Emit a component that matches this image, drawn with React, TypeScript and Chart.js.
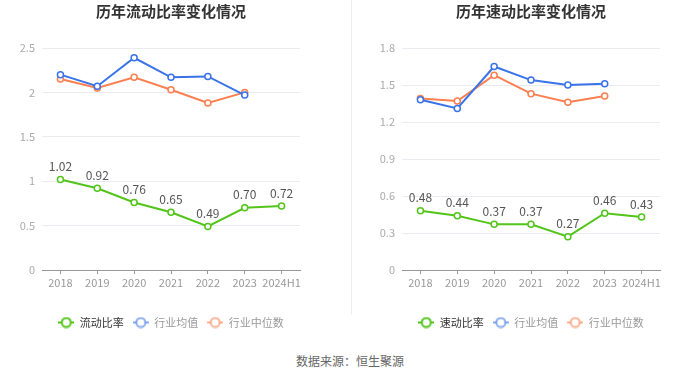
import React, { useEffect, useRef } from "react";
import { Chart, registerables } from "chart.js";

Chart.register(...registerables);

const categories = ["2018", "2019", "2020", "2021", "2022", "2023", "2024H1"];

const currentRatio = [1.02, 0.92, 0.76, 0.65, 0.49, 0.7, 0.72];
const currentMean = [2.2, 2.07, 2.39, 2.17, 2.18, 1.97, null];
const currentMedian = [2.15, 2.05, 2.17, 2.03, 1.88, 2.0, null];

const quickRatio = [0.48, 0.44, 0.37, 0.37, 0.27, 0.46, 0.43];
const quickMean = [1.38, 1.31, 1.65, 1.54, 1.5, 1.51, null];
const quickMedian = [1.39, 1.37, 1.58, 1.43, 1.36, 1.41, null];

const GREEN = "#52c41a";
const BLUE = "#3a73e8";
const ORANGE = "#fb7f4f";
const FONT = "'Noto Sans CJK SC', 'Noto Sans', sans-serif";

function legendIcon(color: string, alpha: number) {
  const c = document.createElement("canvas");
  c.width = 16;
  c.height = 12;
  const ctx = c.getContext("2d")!;
  ctx.globalAlpha = alpha;
  ctx.strokeStyle = color;
  ctx.lineWidth = 2;
  ctx.beginPath();
  ctx.moveTo(0, 6);
  ctx.lineTo(16, 6);
  ctx.stroke();
  ctx.globalAlpha = 1;
  ctx.fillStyle = "#fff";
  ctx.beginPath();
  ctx.arc(8, 6, 4.5, 0, Math.PI * 2);
  ctx.fill();
  ctx.globalAlpha = alpha;
  ctx.beginPath();
  ctx.arc(8, 6, 4.5, 0, Math.PI * 2);
  ctx.stroke();
  return c;
}

const valueLabels = {
  id: "valueLabels",
  afterDatasetsDraw(chart: any) {
    const meta = chart.getDatasetMeta(0);
    const data = chart.data.datasets[0].data;
    const ctx = chart.ctx;
    ctx.save();
    ctx.font = `12px ${FONT}`;
    ctx.fillStyle = "#555";
    ctx.textAlign = "center";
    ctx.textBaseline = "middle";
    meta.data.forEach((pt: any, i: number) => {
      const v = data[i];
      if (v == null) return;
      ctx.fillText(Number(v).toFixed(2), pt.x, pt.y - 13);
    });
    ctx.restore();
  },
};

function makeConfig(
  title: string,
  mainLabel: string,
  main: (number | null)[],
  mean: (number | null)[],
  median: (number | null)[],
  max: number,
  step: number,
  yWidth: number,
  padRight: number
): any {
  const ds = (label: string, data: any, color: string) => ({
    label,
    data,
    borderColor: color,
    backgroundColor: "#fff",
    borderWidth: 2,
    pointRadius: 3,
    pointBorderWidth: 1.5,
    pointBackgroundColor: "#fff",
    pointBorderColor: color,
    tension: 0,
    spanGaps: false,
  });
  const icons = [legendIcon(GREEN, 1), legendIcon(BLUE, 0.6), legendIcon(ORANGE, 0.6)];
  return {
    type: "line",
    data: {
      labels: categories,
      datasets: [
        ds(mainLabel, main, GREEN),
        ds("行业均值", mean, BLUE),
        ds("行业中位数", median, ORANGE),
      ],
    },
    options: {
      responsive: false,
      animation: false,
      layout: { padding: { left: 0, right: padRight, top: 0, bottom: 6 } },
      plugins: {
        tooltip: { enabled: false },
        title: {
          display: true,
          text: title,
          fullSize: false,
          color: "#333",
          font: { family: FONT, size: 15, weight: "bold" },
          padding: { top: 2, bottom: 28 },
        },
        legend: {
          display: true,
          position: "bottom",
          fullSize: false,
          labels: {
            usePointStyle: true,
            pointStyleWidth: 16,
            padding: 9,
            font: { family: FONT, size: 11 },
            generateLabels: () =>
              [mainLabel, "行业均值", "行业中位数"].map((t, i) => ({
                text: t,
                pointStyle: icons[i],
                fillStyle: "transparent",
                strokeStyle: "transparent",
                lineWidth: 0,
                hidden: false,
                datasetIndex: i,
                fontColor: i === 0 ? "#333" : "#999",
              })),
          },
        },
      },
      scales: {
        x: {
          offset: true,
          grid: {
            offset: false,
            drawOnChartArea: false,
            drawTicks: true,
            tickLength: 4,
            color: "#999",
          },
          border: { display: true, color: "#999", width: 1 },
          ticks: {
            color: "#999",
            font: { family: FONT, size: 11 },
            padding: 2,
            maxRotation: 0,
            autoSkip: false,
          },
          afterFit: (s: any) => {
            s.height = 38;
          },
        },
        y: {
          min: 0,
          max,
          grid: { color: "#e8ebf0", drawTicks: false, lineWidth: 1 },
          border: { display: false },
          ticks: {
            stepSize: step,
            color: "#aaa",
            padding: 7,
            font: { family: FONT, size: 11 },
            callback: (v: any) => String(Number(Number(v).toFixed(1))),
          },
          afterFit: (s: any) => {
            s.width = yWidth;
          },
        },
      },
    },
    plugins: [valueLabels],
  };
}

function LineChart(props: { config: any; left: number }) {
  const ref = useRef<HTMLCanvasElement>(null);
  useEffect(() => {
    const chart = new Chart(ref.current!, props.config);
    return () => chart.destroy();
  }, []);
  return (
    <canvas
      ref={ref}
      width={350}
      height={344}
      style={{ position: "absolute", left: props.left, top: 0, width: 350, height: 344 }}
    />
  );
}

export default function App() {
  useEffect(() => {
    document.body.style.margin = "0";
  }, []);
  const left = makeConfig("历年流动比率变化情况", "流动比率", currentRatio, currentMean, currentMedian, 2.5, 0.5, 42, 50);
  const right = makeConfig("历年速动比率变化情况", "速动比率", quickRatio, quickMean, quickMedian, 1.8, 0.3, 52, 40);
  return (
    <div style={{ position: "absolute", left: 0, top: 0, width: 700, height: 378, background: "#fff", overflow: "hidden" }}>
      <LineChart config={left} left={0} />
      <LineChart config={right} left={350} />
      <div style={{ position: "absolute", left: 351, top: 0, width: 1, height: 315, background: "#eeeeee" }} />
      <div
        style={{
          position: "absolute",
          left: 0,
          top: 354,
          width: 700,
          textAlign: "center",
          fontFamily: FONT,
          fontSize: 12,
          lineHeight: "14px",
          color: "#666",
        }}
      >
        数据来源：恒生聚源
      </div>
    </div>
  );
}
